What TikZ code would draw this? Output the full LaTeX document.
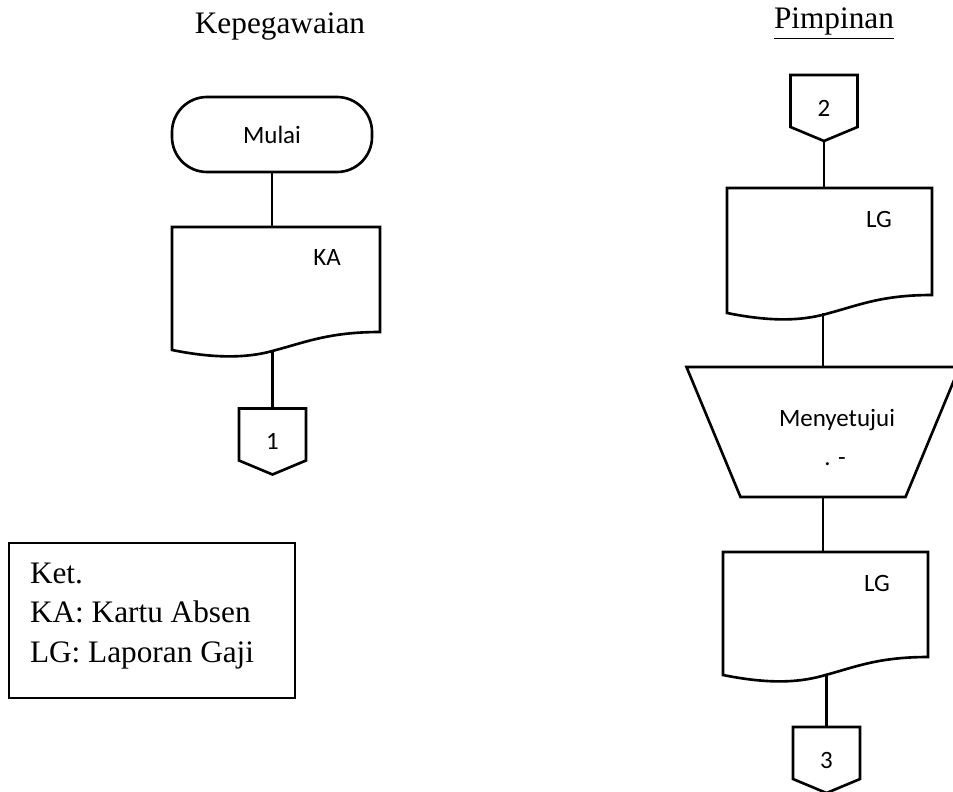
\documentclass[tikz,border=0pt]{standalone}
\usepackage{fontspec}
\setmainfont{Liberation Serif}
\newfontfamily\sansfont{Carlito}
\usetikzlibrary{calc}

\tikzset{
  garis/.style={line width=1.5pt},
  judul/.style={font=\fontsize{17.8}{22}\selectfont},
  teks/.style={font=\sansfont\fontsize{14.2}{17}\selectfont},
  dok/.style={minimum width=4.1cm,minimum height=2.46cm},
  sambung/.style={teks,minimum width=1.34cm,minimum height=1.32cm},
}

\begin{document}
\begin{tikzpicture}[every node/.style={inner sep=0,outer sep=0}]
  \useasboundingbox (0,0) rectangle (19.06,-15.82);
  %% Judul kolom.
  \node[judul,anchor=base] (T1) at (5.6,-0.68) {Kepegawaian};
  \node[judul,anchor=base] (T2) at (16.68,-0.58) {\underline{Pimpinan}};
  %% Kolom kiri: Kepegawaian.
  \node[draw,garis,teks,rounded corners=0.7cm,minimum width=4cm,minimum height=1.5cm] (M) at (5.44,-2.69) {Mulai};
  \node[dok,minimum width=4.16cm,label={[teks,xshift=1.02cm,yshift=0.62cm]center:KA}] (KA) at (5.52,-5.77) {};
  \node[sambung] (P1) at (5.45,-8.83) {1};
  %% Kolom kanan: Pimpinan.
  \node[sambung] (P2) at (16.48,-2.16) {2};
  \node[dok,minimum height=2.5cm,label={[teks,xshift=0.99cm,yshift=0.63cm]center:LG}] (LG1) at (16.59,-5.01) {};
  \node[minimum width=5.46cm,minimum height=2.6cm,
        label={[teks,xshift=0.28cm,yshift=0.24cm]center:Menyetujui},
        label={[teks,xshift=0.24cm,yshift=-0.6cm]center:{. -}}] (S) at (16.46,-8.64) {};
  \node[dok,label={[teks,xshift=1.03cm,yshift=0.61cm]center:LG}] (LG2) at (16.51,-12.27) {};
  \node[sambung] (P3) at (16.53,-15.2) {3};
  %% Keterangan.
  \node[draw,garis,minimum width=5.72cm,minimum height=3.1cm] (Ket) at (3.04,-12.41) {};
  \node[judul,anchor=base west] (K1) at (0.6,-11.66) {Ket.};
  \node[judul,anchor=base west] (K2) at (0.6,-12.44) {KA: Kartu Absen};
  \node[judul,anchor=base west] (K3) at (0.6,-13.24) {LG: Laporan Gaji};

  %% Dokumen.
  \foreach \d in {KA,LG1,LG2}
    \draw[garis] (\d.south west) -- (\d.north west) -- (\d.north east)
      -- ($(\d.south east)+(0,0.36)$)
      .. controls ($(\d.south east)+(-1,0.36)$) and ($(\d.south)+(0.6,0.16)$) .. (\d.south)
      .. controls ($(\d.south)+(-0.6,-0.18)$) and ($(\d.south west)+(0.8,-0.16)$) .. (\d.south west) -- cycle;
  %% Penghubung halaman.
  \foreach \p in {P1,P2,P3}
    \draw[garis] (\p.north west) -- (\p.north east) -- ($(\p.south east)+(0,0.28)$)
      -- (\p.south) -- ($(\p.south west)+(0,0.28)$) -- cycle;
  %% Proses manual.
  \draw[garis] (S.north west) -- (S.north east) -- ($(S.south east)+(-1.08,0)$)
    -- ($(S.south west)+(1.08,0)$) -- cycle;

  \draw[garis] (M) -- (M |- KA.north);
  \draw[garis] (KA.south -| P1) -- (P1);
  \draw[garis] (P2) -- (P2 |- LG1.north);
  \draw[garis] (LG1.south -| S) -- (S);
  \draw[garis] (S) -- (S |- LG2.north);
  \draw[garis] (LG2.south -| P3) -- (P3);
\end{tikzpicture}
\end{document}
